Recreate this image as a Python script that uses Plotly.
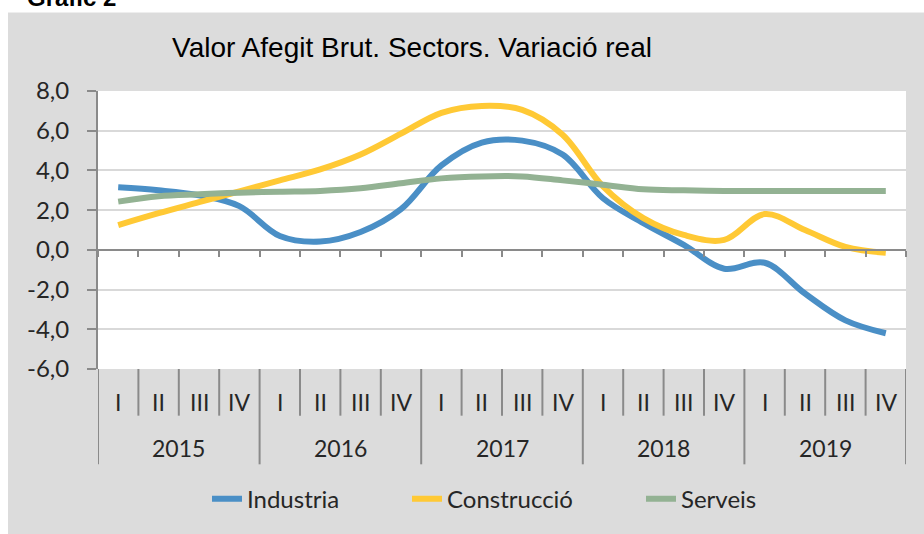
import plotly.graph_objects as go

# ---- data ----
quarter_labels = ["I", "II", "III", "IV"] * 5
year_labels = ["2015", "2016", "2017", "2018", "2019"]
industria = [3.15, 3.0, 2.75, 2.2, 0.7, 0.42, 0.9, 2.05, 4.25, 5.4, 5.5, 4.8, 2.6, 1.35, 0.25, -0.95, -0.65, -2.2, -3.55, -4.2]
construccio = [1.25, 1.85, 2.4, 2.95, 3.5, 4.05, 4.8, 5.85, 6.9, 7.25, 7.05, 5.8, 3.2, 1.6, 0.75, 0.5, 1.8, 1.0, 0.15, -0.15]
serveis = [2.43, 2.7, 2.8, 2.88, 2.93, 2.97, 3.1, 3.35, 3.6, 3.7, 3.7, 3.5, 3.28, 3.05, 3.0, 2.97, 2.97, 2.97, 2.97, 2.97]
y_tickvals = [-6, -4, -2, 0, 2, 4, 6, 8]
y_ticktext = ["-6,0", "-4,0", "-2,0", "0,0", "2,0", "4,0", "6,0", "8,0"]
title_text = "Valor Afegit Brut. Sectors. Variació real"

n = len(quarter_labels)
xs = list(range(n))
per_year = 4

W, H = 924, 534
ML, MR, MT, MB = 98, 18, 91, 163
PW, PH = W - ML - MR, H - MT - MB

def py(page_y):  # page pixel y -> paper y
    return (H - MB - page_y) / PH

def px(page_x):  # page pixel x -> paper x
    return (page_x - ML) / PW

GRAY_BG = "#DCDCDC"
AX = "#8A8A8A"
TXT = "#262626"
FONT = "Lato"

fig = go.Figure()
series = [("Industria", industria, "#4A8FC6", "legend", 250),
          ("Construcció", construccio, "#FFC935", "legend2", 450),
          ("Serveis", serveis, "#93B293", "legend3", 684)]
legends = {}
for name, vals, col, lg, text_x in series:
    fig.add_trace(go.Scatter(x=xs, y=vals, name=name, mode="lines", legend=lg,
                             line=dict(color=col, width=6, shape="spline", smoothing=1.0)))
    legends[lg] = dict(orientation="h", x=px(text_x - 43), xanchor="left",
                       y=py(502), yanchor="middle",
                       font=dict(family=FONT, size=24, color=TXT),
                       bgcolor="rgba(0,0,0,0)", borderwidth=0)

shapes = []
# white strips outside the grey chart area
shapes.append(dict(type="rect", xref="paper", yref="paper", x0=px(-5), x1=px(W + 5),
                   y0=py(12), y1=py(-5), fillcolor="white", line_width=0, layer="below"))
shapes.append(dict(type="rect", xref="paper", yref="paper", x0=px(-5), x1=px(8),
                   y0=py(H + 5), y1=py(-5), fillcolor="white", line_width=0, layer="below"))
# category separators
for k in range(n + 1):
    b = k - 0.5
    y_end = py(467) if k % per_year == 0 else py(418)
    shapes.append(dict(type="line", xref="x", yref="paper", x0=b, x1=b, y0=0, y1=y_end,
                       line=dict(color=AX, width=2)))

annotations = []
for i, q in enumerate(quarter_labels):
    annotations.append(dict(x=i, y=py(404), xref="x", yref="paper", text=q, showarrow=False,
                            xanchor="center", yanchor="middle",
                            font=dict(family=FONT, size=23, color=TXT)))
for k, yl in enumerate(year_labels):
    annotations.append(dict(x=k * per_year + (per_year - 1) / 2, y=py(451), xref="x", yref="paper",
                            text=yl, showarrow=False, xanchor="center", yanchor="middle",
                            font=dict(family=FONT, size=23, color=TXT)))
annotations.append(dict(x=px(25), y=py(-3), xref="paper", yref="paper", text="<b>Gràfic 2</b>",
                        showarrow=False, xanchor="left", yanchor="middle",
                        font=dict(family="Liberation Sans", size=24, color="black")))

layout_kwargs = dict(
    width=W, height=H,
    margin=dict(l=ML, r=MR, t=MT, b=MB, pad=0),
    paper_bgcolor=GRAY_BG, plot_bgcolor="white",
    title=dict(text=title_text, x=412 / W, xref="container", xanchor="center",
               y=1 - 47 / H, yref="container", yanchor="middle",
               font=dict(family="Liberation Sans", size=28, color="black")),
    xaxis=dict(range=[-0.5, n - 0.5], anchor="free", position=6 / 14,
               showline=True, linecolor=AX, linewidth=2,
               ticks="outside", ticklen=6, tickwidth=2, tickcolor=AX,
               tickvals=[k - 0.5 for k in range(n + 1)], showticklabels=False,
               showgrid=False, zeroline=False, fixedrange=True),
    yaxis=dict(range=[-6, 8], domain=[0, 1], tickvals=y_tickvals, ticktext=y_ticktext,
               showline=True, linecolor=AX, linewidth=2,
               ticks="outside", ticklen=9, tickwidth=2, tickcolor=AX,
               ticklabelstandoff=13,
               showgrid=True, gridcolor="#D9D9D9", gridwidth=2, zeroline=False,
               tickfont=dict(family=FONT, size=24, color=TXT)),
    showlegend=True,
    shapes=shapes, annotations=annotations,
)
layout_kwargs.update(legends)
fig.update_layout(**layout_kwargs)

fig.write_html("out.html", config={"displayModeBar": False},
               post_script="document.body.style.margin='0px';")
